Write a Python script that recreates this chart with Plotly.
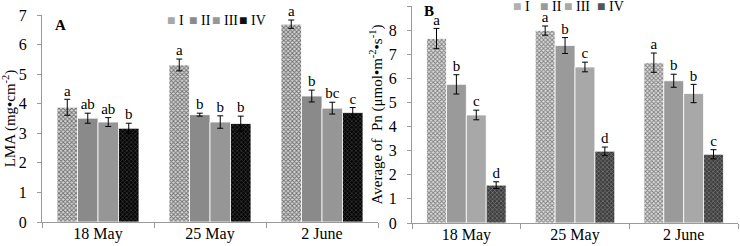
import plotly.graph_objects as go

# ---------------- data ----------------
dates = ["18 May", "25 May", "2 June"]
series = ["I", "II", "III", "IV"]

lma_I = [3.88, 5.31, 6.69]
lma_II = [3.51, 3.63, 4.26]
lma_III = [3.38, 3.38, 3.85]
lma_IV = [3.17, 3.33, 3.70]
lma_err_I = [0.27, 0.20, 0.14]
lma_err_II = [0.17, 0.05, 0.20]
lma_err_III = [0.15, 0.21, 0.20]
lma_err_IV = [0.17, 0.25, 0.17]
lma_let_I = ["a", "a", "a"]
lma_let_II = ["ab", "b", "b"]
lma_let_III = ["ab", "b", "bc"]
lma_let_IV = ["b", "b", "c"]

pn_I = [7.65, 7.98, 6.65]
pn_II = [5.75, 7.36, 5.90]
pn_III = [4.48, 6.47, 5.37]
pn_IV = [1.57, 2.98, 2.85]
pn_err_I = [0.42, 0.19, 0.40]
pn_err_II = [0.40, 0.33, 0.27]
pn_err_III = [0.20, 0.20, 0.38]
pn_err_IV = [0.14, 0.17, 0.19]
pn_let_I = ["a", "a", "a"]
pn_let_II = ["b", "b", "b"]
pn_let_III = ["c", "c", "b"]
pn_let_IV = ["d", "d", "c"]

lma_ticks = [0, 1, 2, 3, 4, 5, 6, 7]
pn_ticks = [0, 1, 2, 3, 4, 5, 6, 7, 8, 9]

# ---------------- styles ----------------
FONT = "Liberation Serif"
BW = 0.183  # bar width in category units
AX = "#9a9a9a"

styleA = [
    dict(color="#a8a8a8", pattern=dict(shape="x", size=3, solidity=0.5, fgcolor="#6e6e6e", bgcolor="#d6d6d6")),
    dict(color="#8a8a8a"),
    dict(color="#969696"),
    dict(color="#101010", pattern=dict(shape="x", size=3, solidity=0.4, fgcolor="#3a3a3a", bgcolor="#050505")),
]
styleB = [
    dict(color="#b0b0b0", pattern=dict(shape="x", size=3, solidity=0.5, fgcolor="#7e7e7e", bgcolor="#dcdcdc")),
    dict(color="#9a9a9a"),
    dict(color="#a8a8a8"),
    dict(color="#555555", pattern=dict(shape="x", size=3, solidity=0.4, fgcolor="#7a7a7a", bgcolor="#3e3e3e")),
]

fig = go.Figure()


def add_panel(vals, errs, lets, styles, xa, ya):
    for j, (v, e, l, st) in enumerate(zip(vals, errs, lets, styles)):
        xs = [i + (j - 1.5) * BW for i in range(len(dates))]
        marker = dict(color=st["color"], line=dict(color="white", width=0.8))
        if "pattern" in st:
            marker["pattern"] = st["pattern"]
        fig.add_trace(go.Bar(
            x=xs, y=v, width=BW, name=series[j], marker=marker,
            error_y=dict(type="data", array=e, color="black", thickness=1, width=3),
            xaxis=xa, yaxis=ya, showlegend=False,
        ))
        fig.add_trace(go.Scatter(
            x=xs, y=[a + b for a, b in zip(v, e)], mode="text", text=l,
            textposition="top center", textfont=dict(family=FONT, size=15, color="#000000"),
            xaxis=xa, yaxis=ya, showlegend=False, cliponaxis=False, hoverinfo="skip",
        ))


add_panel([lma_I, lma_II, lma_III, lma_IV], [lma_err_I, lma_err_II, lma_err_III, lma_err_IV],
          [lma_let_I, lma_let_II, lma_let_III, lma_let_IV], styleA, "x", "y")
add_panel([pn_I, pn_II, pn_III, pn_IV], [pn_err_I, pn_err_II, pn_err_III, pn_err_IV],
          [pn_let_I, pn_let_II, pn_let_III, pn_let_IV], styleB, "x2", "y2")

W, H = 740, 246


def xax(domain, anchor):
    return dict(domain=domain, anchor=anchor, range=[-0.5, 2.5], showline=True, linecolor=AX, linewidth=1,
                automargin=False, tickmode="array", tickvals=list(range(len(dates))), ticktext=dates, ticks="",
                ticklabelstandoff=-3,
                tickfont=dict(family=FONT, size=16, color="black"), showgrid=False, zeroline=False,
                minor=dict(tickmode="array", tickvals=[-0.5, 0.5, 1.5, 2.5], ticks="outside",
                           ticklen=5, tickcolor=AX, showgrid=False))


def yax(domain, rng, tickv, title, anchor, standoff):
    return dict(domain=domain, range=rng, tickmode="array", tickvals=tickv, showline=True, linecolor=AX,
                linewidth=1, ticks="outside", ticklen=4, tickcolor=AX, showgrid=False, zeroline=False,
                automargin=False, ticklabelstandoff=7,
                tickfont=dict(family=FONT, size=16, color="black"), anchor=anchor,
                title=dict(text=title, font=dict(family=FONT, size=15, color="black"), standoff=standoff))


fig.update_layout(
    template="none",
    width=W, height=H, margin=dict(l=0, r=0, t=0, b=0, autoexpand=False),
    plot_bgcolor="white", paper_bgcolor="white", barmode="overlay",
    xaxis=xax([42 / W, 378 / W], "y"),
    xaxis2=xax([412 / W, 738 / W], "y2"),
    yaxis=yax([24 / H, 231 / H], [0, 7], lma_ticks, "LMA (mg•cm<sup>-2</sup>)", "x", 4),
    yaxis2=yax([23 / H, 240 / H], [0, 9], pn_ticks,
               "Average of  Pn (μmol•m<sup>-2</sup>•s<sup>-1</sup>)", "x2", 2),
)

# panel letters
fig.add_annotation(x=53 / W, y=1 - 25 / H, xref="paper", yref="paper", text="<b>A</b>", showarrow=False,
                   xanchor="left", yanchor="middle", font=dict(family=FONT, size=15, color="black"))
fig.add_annotation(x=422 / W, y=1 - 11 / H, xref="paper", yref="paper", text="<b>B</b>", showarrow=False,
                   xanchor="left", yanchor="middle", font=dict(family=FONT, size=15, color="black"))


def legend(xs, ypix, styles):
    for name, x0, st in zip(series, xs, styles):
        c = st["color"]
        fig.add_annotation(x=x0 / W, y=1 - ypix / H, xref="paper", yref="paper", showarrow=False,
                           xanchor="left", yanchor="middle", borderpad=0,
                           text=f"<span style='color:{c}'>■</span> {name}",
                           font=dict(family=FONT, size=14, color="black"))


legend([166, 188, 211, 238], 21, styleA)
legend([512, 539, 563, 596], 6, styleB)

fig.write_html("out.html", config={"displayModeBar": False},
               post_script="document.body.style.margin='0';document.body.style.overflow='hidden';")
